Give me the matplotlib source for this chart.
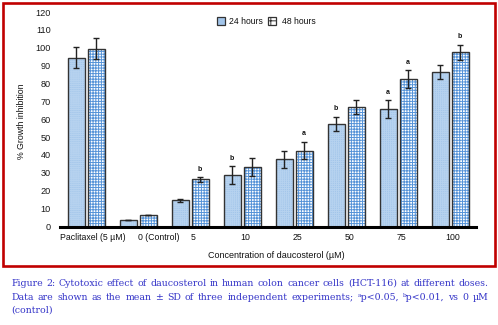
import matplotlib
matplotlib.use("Agg")
import matplotlib.pyplot as plt
from matplotlib.patches import Rectangle
import numpy as np

categories = ["Paclitaxel (5 µM)", "0 (Control)", "5", "10", "25", "50", "75", "100"]
h24 = [94.5, 3.5, 14.6, 28.6, 37.5, 57.5, 65.5, 86.5]
h24_sd = [6.0, 0.0, 1.0, 5.0, 5.0, 4.0, 5.0, 4.0]
h48 = [99.5, 6.5, 26.4, 33.5, 42.5, 67.0, 82.5, 97.5]
h48_sd = [6.0, 0.0, 1.3, 5.0, 5.0, 4.0, 5.0, 4.3]
sig24 = ["", "", "", "b", "", "b", "a", ""]
sig48 = ["", "", "b", "", "a", "", "a", "b"]
yticks = [0, 10, 20, 30, 40, 50, 60, 70, 80, 90, 100, 110, 120]

W, H = 498, 325
plt.rcParams['hatch.linewidth'] = 0.7
fig = plt.figure(figsize=(W/100, H/100), dpi=100)

def fx(px): return px / W
def fy(py): return 1 - py / H

ax = fig.add_axes([fx(60), fy(226.5), fx(476) - fx(60), fy(12) - fy(226.5)])
x = np.arange(len(categories))
off = 10/52
bw = 17/52

c24 = '#a2c5ea'
edge = '#333333'
sans = 'Liberation Sans'

# 24h fill
ax.bar(x - off, h24, bw, color=c24, edgecolor='#b6d2ef', hatch='++++++++', linewidth=0, zorder=2)
ax.bar(x - off, h24, bw, fill=False, edgecolor=edge, linewidth=1.0, zorder=3)
# 48h fill
ax.bar(x + off, h48, bw, color='white', edgecolor='#5593d8', hatch='++++++', linewidth=0, zorder=2)
ax.bar(x + off, h48, bw, fill=False, edgecolor=edge, linewidth=1.0, zorder=3)

ax.errorbar(x - off, h24, yerr=h24_sd, fmt='none', ecolor='#222222', elinewidth=1, capsize=2, capthick=1, zorder=4)
ax.errorbar(x + off, h48, yerr=h48_sd, fmt='none', ecolor='#222222', elinewidth=1, capsize=2, capthick=1, zorder=4)

for i in range(len(categories)):
    if sig24[i]:
        ax.text(x[i] - off, h24[i] + h24_sd[i] + 2.5, sig24[i], ha='center', va='bottom',
                fontsize=5, fontweight='bold', color='#111111', family=sans)
    if sig48[i]:
        ax.text(x[i] + off, h48[i] + h48_sd[i] + 2.5, sig48[i], ha='center', va='bottom',
                fontsize=5, fontweight='bold', color='#111111', family=sans)

ax.set_xlim(-0.5, len(categories) - 0.5)
ax.set_ylim(0, 120)
ax.set_yticks(yticks)
ax.set_yticklabels([str(v) for v in yticks], fontsize=6.6, family=sans, color='#1a1a1a')
# first two labels start at their slot, others roughly centred
tick_pos = [x[0] - 0.5, x[1]] + [xi + 0.06 for xi in x[2:]]
ax.set_xticks(tick_pos)
ax.set_xticklabels(categories, fontsize=6.3, family=sans, color='#111111')
labs = ax.get_xticklabels()
labs[0].set_ha('left')
labs[1].set_ha('left')
ax.tick_params(axis='both', length=0)
ax.tick_params(axis='x', pad=5)
ax.tick_params(axis='y', pad=6.5)
for s in ['top', 'right', 'left']:
    ax.spines[s].set_visible(False)
ax.spines['bottom'].set_linewidth(2.2)
ax.spines['bottom'].set_color('black')
ax.spines['bottom'].set_zorder(5)
ax.patch.set_alpha(0)

fig.text(fx(22), fy(121), "% Growth inhibition", rotation=90, ha='center', va='center',
         fontsize=6.3, family=sans, color='#111111')
fig.text(fx(276), fy(255), "Concentration of daucosterol (µM)", ha='center', va='center',
         fontsize=6.5, family=sans, color='#111111')

# legend
fig.patches.append(Rectangle((fx(217), fy(25)), fx(8), fy(17) - fy(25), transform=fig.transFigure,
                             facecolor=c24, edgecolor=edge, linewidth=0.9))
fig.patches.append(Rectangle((fx(268), fy(25)), fx(8), fy(17) - fy(25), transform=fig.transFigure,
                             facecolor='white', edgecolor=edge, linewidth=0.9, hatch='++'))
fig.text(fx(229), fy(21), "24 hours", ha='left', va='center', fontsize=6.2, family=sans, color='#111111')
fig.text(fx(282), fy(21), "48 hours", ha='left', va='center', fontsize=6.2, family=sans, color='#111111')

# red border
fig.patches.append(Rectangle((fx(3), fy(266)), fx(492), fy(3) - fy(266), transform=fig.transFigure,
                             fill=False, edgecolor='#c00000', linewidth=1.9))

# caption with justification
cap_col = '#3434c8'
line1 = "Figure 2: Cytotoxic effect of daucosterol in human colon cancer cells (HCT-116) at different doses."
line2 = "Data are shown as the mean ± SD of three independent experiments; ᵃp<0.05, ᵇp<0.01, vs 0 µM"
line3 = "(control)"

renderer = fig.canvas.get_renderer()
cap_family = ['DejaVu Serif']

# choose font size so line 1 fills most of the width
probe = fig.text(0, 0, line1, fontsize=10, family=cap_family)
pw = probe.get_window_extent(renderer).width
probe.remove()
cap_size = min(9.0, 10 * 472 / pw)
cap_kw = dict(fontsize=cap_size, family=cap_family, color=cap_col, va='baseline', ha='left')

def justify(text, x0, x1, ybase):
    words = text.split(' ')
    objs = [fig.text(0, fy(ybase), w, **cap_kw) for w in words]
    widths = [o.get_window_extent(renderer).width for o in objs]
    gap = (x1 - x0 - sum(widths)) / (len(words) - 1)
    cur = x0
    for o, w in zip(objs, widths):
        o.set_x(fx(cur))
        cur += w + gap

justify(line1, 11, 488, 286)
justify(line2, 11, 488, 300)
fig.text(fx(11), fy(313), line3, **cap_kw)

fig.savefig("out.png", dpi=100)
